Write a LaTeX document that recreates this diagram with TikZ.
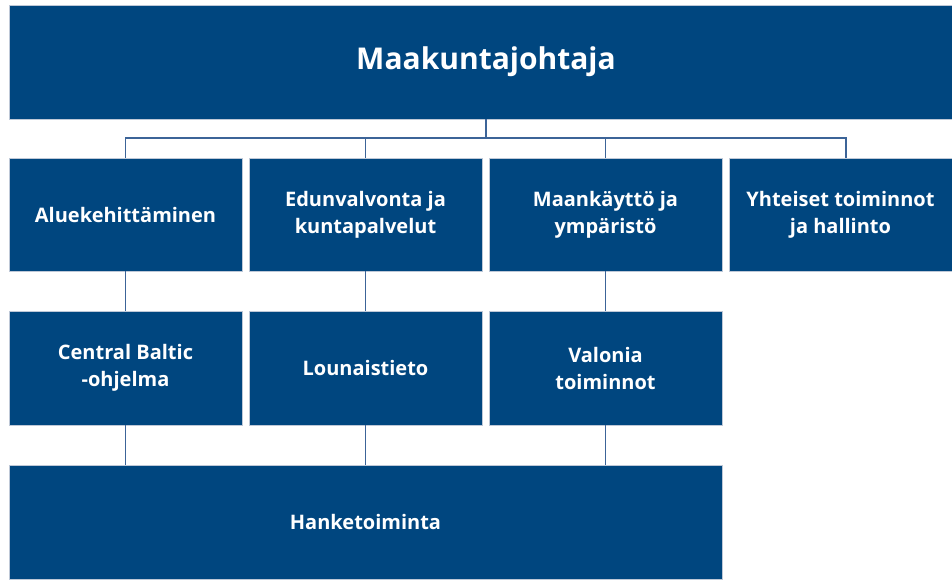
\documentclass[tikz,border=0pt]{standalone}
\usepackage{fontspec}
\setmainfont{Open Sans}
\definecolor{boxblue}{RGB}{0,70,127}
\definecolor{lineblue}{RGB}{60,100,152}
\definecolor{edgegray}{RGB}{190,200,215}
\begin{document}
\begin{tikzpicture}[x=1pt,y=-1pt,
  unit/.style={fill=boxblue,draw=edgegray,line width=0.6pt,text=white,font=\bfseries\fontsize{20}{27}\selectfont,align=center,inner sep=0pt},
  conn/.style={draw=lineblue,line width=1.6pt}]
\useasboundingbox (0,0) rectangle (952,579);
\node[unit,minimum width=954,minimum height=114,font=\bfseries\fontsize{30}{36}\selectfont] (top) at (486,62) {Maakuntajohtaja};
% row 1
\node[unit,minimum width=233,minimum height=113] (a1) at (125.5,214.5) {Aluekehittäminen};
\node[unit,minimum width=233,minimum height=113] (b1) at (365.5,214.5) {Edunvalvonta ja\\kuntapalvelut};
\node[unit,minimum width=233,minimum height=113] (c1) at (605.5,214.5) {Maankäyttö ja\\ympäristö};
\node[unit,minimum width=223,minimum height=113] (d1) at (840.5,214.5) {Yhteiset toiminnot\\ja hallinto};
% row 2
\node[unit,minimum width=233,minimum height=114] (a2) at (125.5,368) {Central Baltic\\-ohjelma};
\node[unit,minimum width=233,minimum height=114] (b2) at (365.5,368) {Lounaistieto};
\node[unit,minimum width=233,minimum height=114] (c2) at (605.5,368) {Valonia\\toiminnot};
% row 3
\node[unit,minimum width=713,minimum height=114] (h) at (365.5,522) {Hanketoiminta};
% connectors
\coordinate (bus) at (486,138);
\draw[conn] (top.south) -- (bus);
\draw[conn] (a1.north) |- (bus) -| (d1.north -| 846,0);
\draw[conn] (b1.north) -- (b1.north |- bus);
\draw[conn] (c1.north) -- (c1.north |- bus);
\draw[conn] (a1) -- (a2);
\draw[conn] (b1) -- (b2);
\draw[conn] (c1) -- (c2);
\draw[conn] (a2.south) -- (a2.south |- h.north);
\draw[conn] (b2.south) -- (b2.south |- h.north);
\draw[conn] (c2.south) -- (c2.south |- h.north);
\end{tikzpicture}
\end{document}
